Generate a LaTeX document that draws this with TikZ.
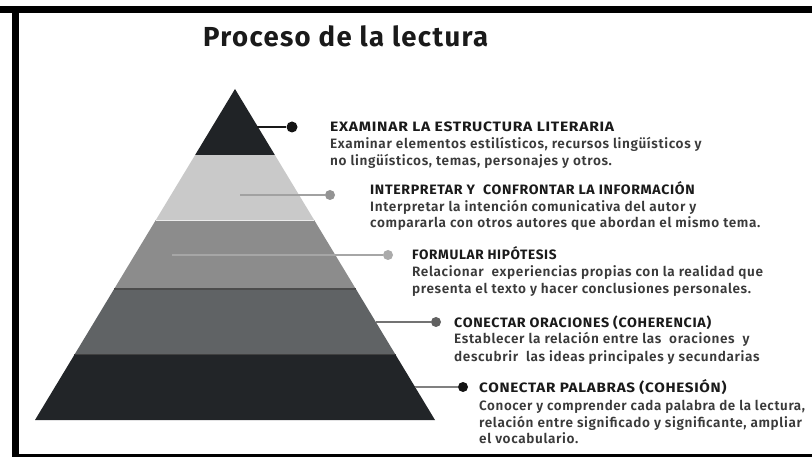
\documentclass[tikz,border=0pt]{standalone}
\usepackage{fontspec}
\usepackage{graphicx}
\setmainfont{Fira Sans}
\newfontfamily\bodyfont{Fira Sans SemiBold}[LetterSpace=4.6]
\newfontfamily\headfont{Fira Sans}[LetterSpace=4.6]
\newfontfamily\titlefont{Fira Sans}[LetterSpace=5]
\newcommand{\hsc}[2]{\scalebox{#1}[1]{#2}}
\usetikzlibrary{calc}
\definecolor{tierA}{HTML}{202326}
\definecolor{tierB}{HTML}{C9C9C9}
\definecolor{tierC}{HTML}{8C8C8C}
\definecolor{tierD}{HTML}{606365}
\definecolor{tierE}{HTML}{222528}
\definecolor{headcol}{HTML}{1A1A1A}
\definecolor{bodycol}{HTML}{3A3A3A}
\tikzset{
  headtxt/.style={anchor=base west, inner sep=0pt, text=headcol, font=\fontsize{13.6}{15}\headfont\bfseries},
  bodytxt/.style={anchor=base west, inner sep=0pt, text=bodycol, font=\fontsize{13.6}{15}\bodyfont},
  dot/.style={circle, inner sep=0pt, minimum size=10pt, fill=#1},
  conn/.style={draw=#1, line width=2pt}
}
\begin{document}
\begin{tikzpicture}[x=1pt,y=-1pt]
\useasboundingbox (0,0) rectangle (812,457);
\fill[white] (0,0) rectangle (812,457);
% frame
\fill[black] (0,6) rectangle (812,13);
\fill[black] (12,6) rectangle (19,457);
\fill[black] (12,454) rectangle (812,457);
% title
\node[anchor=base west, inner sep=0pt, text=headcol, font=\fontsize{27.5}{30}\titlefont\bfseries] (title) at (203,47) {Proceso de la lectura};
% pyramid
\coordinate (apex) at (235,89);
\coordinate (bl) at (35,420);
\coordinate (br) at (435,420);
\foreach \n/\t in {1/0.1994,2/0.3958,3/0.6042,4/0.8036}{
  \coordinate (l\n) at ($(apex)!\t!(bl)$);
  \coordinate (r\n) at ($(apex)!\t!(br)$);
}
\fill[tierA] (apex) -- (r1) -- (l1) -- cycle;
\fill[tierB] (l1) -- (r1) -- (r2) -- (l2) -- cycle;
\fill[tierC] (l2) -- (r2) -- (r3) -- (l3) -- cycle;
\fill[tierD] (l3) -- (r3) -- (r4) -- (l4) -- cycle;
\fill[tierE] (l4) -- (r4) -- (br) -- (bl) -- cycle;
\draw[line width=1pt, white!85!gray] (l2) -- (r2);
\draw[line width=1.2pt, black!70] (l3) -- (r3);
\draw[line width=1pt, black!75] (l4) -- (r4);
% connector start points
\coordinate (s1) at (257,127);
\coordinate (s2) at (240,195);
\coordinate (s3) at (172,255);
\coordinate (s4) at (376,322);
\coordinate (s5) at (415,387);
% dots
\node[dot=black!92, minimum size=11pt] (d1) at (292,127) {};
\node[dot=black!42] (d2) at (330,195) {};
\node[dot=black!33] (d3) at (388,255) {};
\node[dot=black!62] (d4) at (436,322) {};
\node[dot=black!92] (d5) at (463,387) {};
\draw[conn=black!90] (s1) -- (d1);
\draw[conn=black!37] (s2) -- (d2);
\draw[conn=black!35] (s3) -- (d3);
\draw[conn=black!55] (s4) -- (d4);
\draw[conn=black!50] (s5) -- (d5);
% texts
\node[headtxt] (h1) at (330,132) {\hsc{1.15}{EXAMINAR LA ESTRUCTURA LITERARIA}};
\node[bodytxt] (b1a) at (330,149) {Examinar elementos estilísticos, recursos lingüísticos y};
\node[bodytxt] (b1b) at (330,165.5) {no lingüísticos, temas, personajes y otros.};
\node[headtxt] (h2) at (370,195) {\hsc{1.04}{INTERPRETAR Y\ \ CONFRONTAR LA INFORMACIÓN}};
\node[bodytxt] (b2a) at (370,211.5) {Interpretar la intención comunicativa del autor y};
\node[bodytxt] (b2b) at (370,228) {compararla con otros autores que abordan el mismo tema.};
\node[headtxt] (h3) at (412,260) {FORMULAR HIPÓTESIS};
\node[bodytxt] (b3a) at (412,277) {Relacionar\ \ experiencias propias con la realidad que};
\node[bodytxt] (b3b) at (412,294) {presenta el texto y hacer conclusiones personales.};
\node[headtxt] (h4) at (454,327) {\hsc{1.05}{CONECTAR ORACIONES (COHERENCIA)}};
\node[bodytxt] (b4a) at (454,344) {Establecer la relación entre las\ \ oraciones\ \ y};
\node[bodytxt] (b4b) at (454,361) {descubrir\ \ las ideas principales y secundarias};
\node[headtxt] (h5) at (479,392) {\hsc{1.12}{CONECTAR PALABRAS (COHESIÓN)}};
\node[bodytxt] (b5a) at (479,410) {\hsc{0.985}{Conocer y comprender cada palabra de la lectura,}};
\node[bodytxt] (b5b) at (479,427) {relación entre significado y significante, ampliar};
\node[bodytxt] (b5c) at (479,443.5) {el vocabulario.};
\end{tikzpicture}
\end{document}
